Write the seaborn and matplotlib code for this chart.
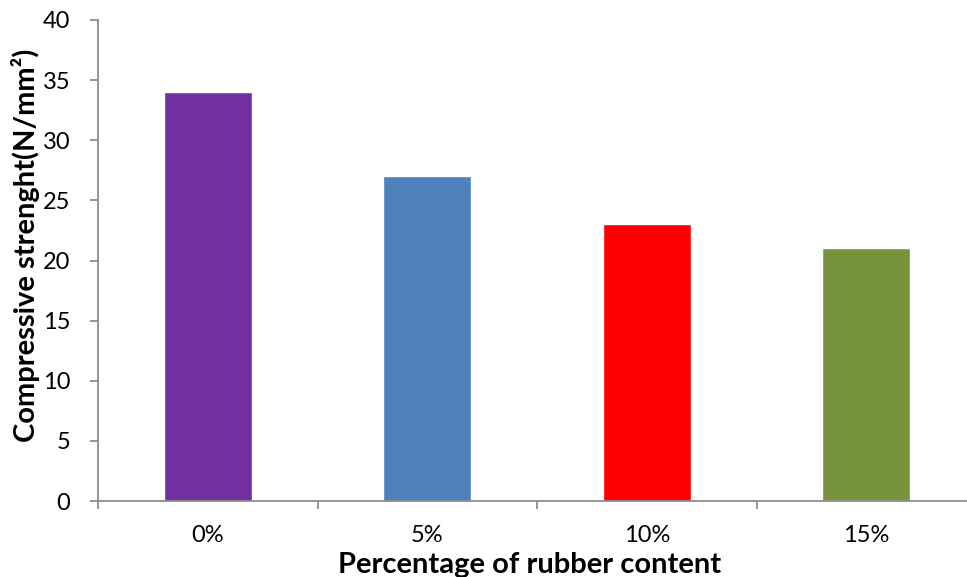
import matplotlib
matplotlib.use("Agg")
import matplotlib.pyplot as plt
import seaborn as sns
import pandas as pd

categories = ["0%", "5%", "10%", "15%"]
strength = [34, 27, 23, 21]
bar_colors = ["#7030A0", "#4F81BD", "#FF0000", "#77933C"]

sns.set_theme(style="white")
plt.rcParams["font.family"] = ["Lato", "DejaVu Sans"]

df = pd.DataFrame({"content": categories, "strength": strength})

fig = plt.figure(figsize=(9.67, 5.77), dpi=100)
ax = fig.add_axes([98 / 967, 76 / 577, 878 / 967, 481 / 577])

sns.barplot(data=df, x="content", y="strength", hue="content",
            palette=bar_colors, width=0.40, saturation=1, legend=False,
            ax=ax)

ax.set_xlim(-0.5, 3.5)
ax.set_ylim(0, 40)
ax.set_yticks(range(0, 41, 5))
ax.set_xticks([-0.5, 0.5, 1.5, 2.5, 3.5], minor=False)
ax.set_xticklabels([])
ax.set_xticks(range(4), minor=True)
ax.set_xticklabels(categories, minor=True)

spine_color = "#8C8C8C"
for side in ["top", "right"]:
    ax.spines[side].set_visible(False)
for side in ["left", "bottom"]:
    ax.spines[side].set_color(spine_color)
    ax.spines[side].set_linewidth(1.3)

ax.tick_params(axis="y", which="major", direction="out", length=6, width=1.3,
               color=spine_color, labelsize=17, labelcolor="black", pad=14,
               left=True)
ax.tick_params(axis="x", which="major", direction="out", length=6, width=1.3,
               color=spine_color, bottom=True)
ax.tick_params(axis="x", which="minor", length=0, labelsize=17,
               labelcolor="black", pad=17)

ax.set_ylabel("Compressive strenght(N/mm²)", fontsize=21, fontweight="bold",
              color="black")
ax.yaxis.set_label_coords(-58 / 878, 256 / 481)
ax.set_xlabel("Percentage of rubber content", fontsize=21, fontweight="bold",
              color="black")
ax.xaxis.set_label_coords(432 / 878, -51 / 481)

fig.savefig("out.png", dpi=100)
